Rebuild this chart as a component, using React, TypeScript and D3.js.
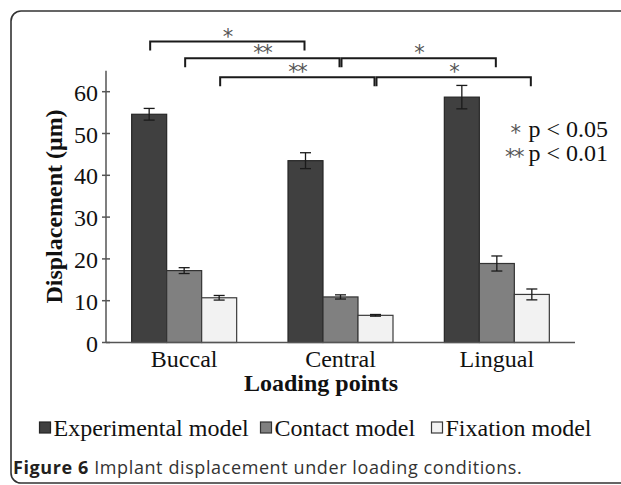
import * as d3 from "d3";

const categories = ["Buccal", "Central", "Lingual"];
const seriesNames = ["Experimental model", "Contact model", "Fixation model"];
const experimental = [54.6, 43.5, 58.7];
const experimentalErr = [1.4, 1.9, 2.8];
const contact = [17.2, 10.9, 18.9];
const contactErr = [0.7, 0.5, 1.8];
const fixation = [10.7, 6.5, 11.5];
const fixationErr = [0.55, 0.2, 1.3];
const yTicks = [0, 10, 20, 30, 40, 50, 60];

// significance brackets: [category, series] -> [category, series]
const comparisons = [
  { from: [0, 0], to: [1, 0], level: 72, label: "*" },
  { from: [0, 1], to: [1, 1], level: 68, label: "**" },
  { from: [1, 1], to: [2, 1], level: 68, label: "*" },
  { from: [0, 2], to: [1, 2], level: 63.45, label: "**" },
  { from: [1, 2], to: [2, 2], level: 63.45, label: "*" },
];

const W = 621;
const H = 485;
const fills = ["#404040", "#808080", "#f2f2f2"];
const strokes = ["#262626", "#333333", "#3a3a3a"];
const serif = "'Liberation Serif', 'Times New Roman', serif";
const starFont = "'DejaVu Sans', sans-serif";
const starSize = 21;

export default function App() {
  const values = [experimental, contact, fixation];
  const errors = [experimentalErr, contactErr, fixationErr];

  const y = d3.scaleLinear().domain([0, 65]).range([342.5, 70.8]);
  const x0 = d3
    .scaleBand<string>()
    .domain(categories)
    .range([106, 575])
    .paddingInner(0.3284)
    .paddingOuter(0.1642);
  const x1 = d3
    .scaleBand<string>()
    .domain(seriesNames)
    .range([0, x0.bandwidth()]);

  const barCenter = (c: number, s: number) =>
    (x0(categories[c]) ?? 0) + (x1(seriesNames[s]) ?? 0) + x1.bandwidth() / 2;

  const base = y(0);
  // baseline offset so the star glyph centre sits at a given y
  const starDy = 0.51 * starSize;

  return (
    <svg
      width={W}
      height={H}
      style={{ position: "absolute", left: 0, top: 0, background: "#fff" }}
    >
      <rect
        x={11}
        y={11}
        width={640}
        height={472}
        rx={10}
        fill="none"
        stroke="#333"
        strokeWidth={1.6}
      />

      {/* bars */}
      {categories.map((cat, ci) => (
        <g key={cat} transform={`translate(${x0(cat)},0)`}>
          {seriesNames.map((s, si) => {
            const v = values[si][ci];
            const e = errors[si][ci];
            const bx = x1(s) ?? 0;
            const cx = bx + x1.bandwidth() / 2;
            return (
              <g key={s}>
                <rect
                  x={bx}
                  y={y(v)}
                  width={x1.bandwidth()}
                  height={base - y(v)}
                  fill={fills[si]}
                  stroke={strokes[si]}
                  strokeWidth={1.2}
                />
                <g stroke="#1a1a1a" strokeWidth={1.3}>
                  <line x1={cx} x2={cx} y1={y(v + e)} y2={y(v - e)} />
                  <line x1={cx - 5.5} x2={cx + 5.5} y1={y(v + e)} y2={y(v + e)} />
                  <line x1={cx - 5.5} x2={cx + 5.5} y1={y(v - e)} y2={y(v - e)} />
                </g>
              </g>
            );
          })}
        </g>
      ))}

      {/* axes */}
      <g stroke="#555" strokeWidth={1.5} fill="none">
        <line x1={106} x2={106} y1={y(65)} y2={base} />
        <line x1={106} x2={575} y1={base} y2={base} />
        {yTicks.map((t) => (
          <line key={t} x1={102} x2={110} y1={y(t)} y2={y(t)} />
        ))}
      </g>
      {yTicks.map((t) => (
        <text
          key={t}
          x={98}
          y={y(t) + 9}
          textAnchor="end"
          fontFamily={serif}
          fontSize={24}
          fill="#111"
        >
          {t}
        </text>
      ))}
      {categories.map((c) => (
        <text
          key={c}
          x={(x0(c) ?? 0) + x0.bandwidth() / 2}
          y={366.5}
          textAnchor="middle"
          fontFamily={serif}
          fontSize={24}
          fill="#111"
        >
          {c}
        </text>
      ))}
      <text
        x={321}
        y={391}
        textAnchor="middle"
        fontFamily={serif}
        fontSize={24}
        fontWeight="bold"
        fill="#111"
      >
        Loading points
      </text>
      <text
        transform="translate(61.5,206.5) rotate(-90)"
        textAnchor="middle"
        fontFamily={serif}
        fontSize={24}
        fontWeight="bold"
        fill="#111"
      >
        Displacement (μm)
      </text>

      {/* significance brackets */}
      {comparisons.map((cmp, i) => {
        const xa = barCenter(cmp.from[0], cmp.from[1]) + 1;
        const xb = barCenter(cmp.to[0], cmp.to[1]) - 1;
        const ly = y(cmp.level);
        return (
          <g key={i}>
            <path
              d={`M${xa},${ly + 9} V${ly} H${xb} V${ly + 9}`}
              fill="none"
              stroke="#1a1a1a"
              strokeWidth={2}
            />
            <text
              x={(xa + xb) / 2}
              y={ly - 8.5 + starDy}
              textAnchor="middle"
              fontFamily={starFont}
              fontSize={starSize}
              fill="#555"
              letterSpacing={-1.5}
            >
              {cmp.label}
            </text>
          </g>
        );
      })}

      {/* p-value key */}
      <text x={521} y={129 + starDy} textAnchor="end" fontFamily={starFont} fontSize={starSize} fill="#555">
        *
      </text>
      <text x={608} y={137} textAnchor="end" fontFamily={serif} fontSize={24} fill="#111">
        p &lt; 0.05
      </text>
      <text
        x={523}
        y={153 + starDy}
        textAnchor="end"
        fontFamily={starFont}
        fontSize={starSize}
        fill="#555"
        letterSpacing={-1.5}
      >
        **
      </text>
      <text x={608} y={160.5} textAnchor="end" fontFamily={serif} fontSize={24} fill="#111">
        p &lt; 0.01
      </text>

      {/* legend */}
      {seriesNames.map((s, i) => {
        const lx = [39.5, 260.5, 431.5][i];
        return (
          <g key={s}>
            <rect
              x={lx}
              y={422}
              width={11}
              height={11}
              fill={fills[i]}
              stroke={strokes[i]}
              strokeWidth={1.2}
            />
            <text x={lx + 14} y={436} fontFamily={serif} fontSize={24} fill="#111">
              {s}
            </text>
          </g>
        );
      })}

      {/* caption */}
      <text
        x={13}
        y={474}
        fontFamily="'Open Sans', sans-serif"
        fontSize={18}
        letterSpacing={0.6}
        fill="#231f20"
      >
        <tspan fontWeight="bold">Figure 6</tspan>
        <tspan fill="#333"> Implant displacement under loading conditions.</tspan>
      </text>
    </svg>
  );
}
